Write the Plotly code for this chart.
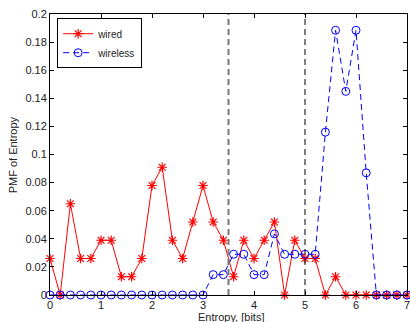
import plotly.graph_objects as go

x_vals = [round(0.2 * i, 1) for i in range(36)]
wired_counts = [2, 0, 5, 2, 2, 3, 3, 1, 1, 2, 6, 7, 3, 2, 4, 6, 4, 3, 1, 3, 2, 3, 4, 0, 3, 2, 2, 0, 1, 0, 0, 0, 0, 0, 0, 0]
wireless_counts = [0] * 16 + [1, 1, 2, 2, 1, 1, 3, 2, 2, 2, 2, 8, 13, 10, 13, 6, 0, 0, 0, 0]
wired = [c / 77 for c in wired_counts]
wireless = [c / 69 for c in wireless_counts]
thresholds = [3.5, 5.0]

font = "Liberation Sans, Arial, sans-serif"

fig = go.Figure()
fig.add_trace(go.Scatter(
    x=x_vals, y=wired, name="wired", mode="lines+markers",
    line=dict(color="#ff0000", width=1),
    marker=dict(symbol="asterisk-open", size=8, color="#ff0000", line=dict(color="#ff0000", width=1.2)),
    cliponaxis=False,
))
fig.add_trace(go.Scatter(
    x=x_vals, y=wireless, name="wireless", mode="lines+markers",
    line=dict(color="#0000ff", width=1, dash="6px,4px"),
    marker=dict(symbol="circle-open", size=8, color="#0000ff", line=dict(color="#0000ff", width=1)),
    cliponaxis=False,
))

fig.add_shape(type="line", xref="x", yref="paper", x0=thresholds[0], x1=thresholds[0], y0=0, y1=1,
              line=dict(color="#777777", width=2, dash="6px,4px"))
fig.add_shape(type="line", xref="x", yref="paper", x0=thresholds[1], x1=thresholds[1], y0=0, y1=1,
              line=dict(color="#000000", width=1, dash="6px,4px"))

axis_common = dict(
    showgrid=False, zeroline=False, showline=True, linecolor="black", linewidth=1,
    mirror="ticks", ticks="inside", ticklen=4, tickcolor="black", automargin=False,
    ticklabeloverflow="allow",
    tickfont=dict(family=font, size=11, color="#222222"),
)

fig.add_annotation(text="Entropy, [bits]", xref="paper", yref="paper", x=0.507, y=-0.08,
                   xanchor="center", yanchor="middle", showarrow=False,
                   font=dict(family=font, size=11, color="#222222"))
fig.add_annotation(text="PMF of Entropy", xref="paper", yref="paper", x=-0.104, y=0.5,
                   xanchor="center", yanchor="middle", showarrow=False, textangle=-90,
                   font=dict(family=font, size=11, color="#222222"))

fig.update_layout(
    width=410, height=322,
    margin=dict(l=50, r=3, t=14, b=27),
    plot_bgcolor="white", paper_bgcolor="white",
    showlegend=True,
    legend=dict(x=0.02, y=0.985, xanchor="left", yanchor="top",
                bgcolor="white", bordercolor="black", borderwidth=1,
                font=dict(family=font, size=10, color="#222222"),
                tracegroupgap=0, itemwidth=30),
    xaxis=dict(range=[0, 7], dtick=1, tick0=0, **axis_common),
    yaxis=dict(range=[0, 0.2], dtick=0.02, tick0=0, **axis_common),
)

fig.write_html("out.html")
